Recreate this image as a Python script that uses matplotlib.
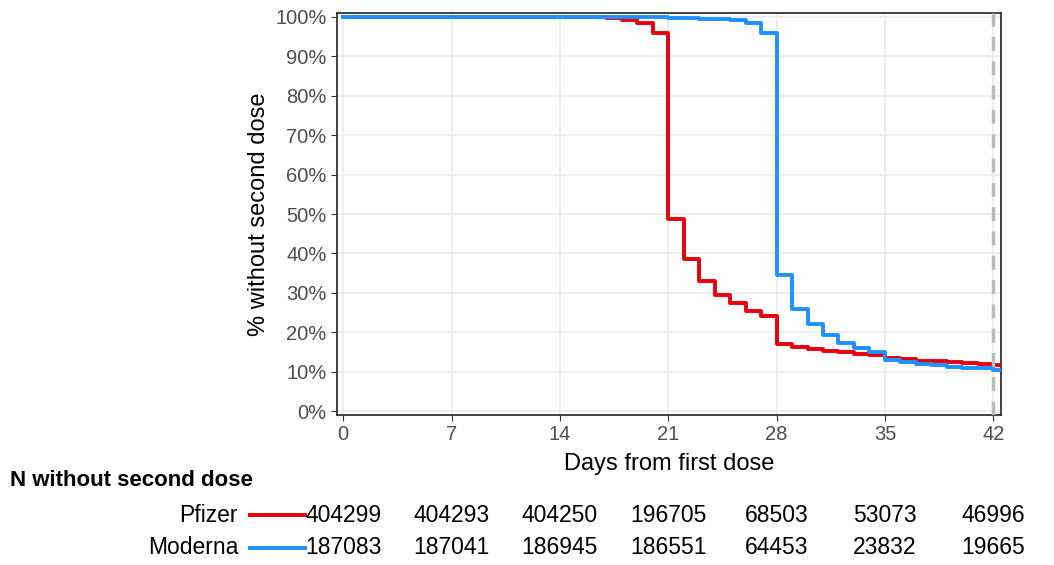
import matplotlib
matplotlib.use("Agg")
import matplotlib.pyplot as plt
import matplotlib.transforms as mtransforms

plt.rcParams['font.family'] = ['Liberation Sans', 'DejaVu Sans']

days = list(range(0, 43))
pfizer = [100]*17 + [99.7, 99.2, 98.5, 96.0, 48.7, 38.6, 33.0, 29.5, 27.3, 25.5, 24.0,
          16.9, 16.2, 15.7, 15.3, 14.9, 14.5, 14.1, 13.4, 13.1, 12.8, 12.6, 12.4, 12.2, 12.0, 11.6]
moderna = [100]*21 + [99.8, 99.7, 99.6, 99.4, 99.1, 98.5, 96.0,
           34.5, 26.0, 22.0, 19.3, 17.3, 16.0, 15.0, 12.9, 12.5, 12.0, 11.6, 11.3, 11.0, 10.8, 10.5]
xticks = [0, 7, 14, 21, 28, 35, 42]
n_pfizer = [404299, 404293, 404250, 196705, 68503, 53073, 46996]
n_moderna = [187083, 187041, 186945, 186551, 64453, 23832, 19665]
red = "#E8000B"
blue = "#1E90FF"

fig = plt.figure(figsize=(10.54, 5.65), dpi=100)
ax = fig.add_axes([337/1054, 1-415/565, (1001-337)/1054, (415-13)/565])
ax.step(days + [42.5], pfizer + [pfizer[-1]], where="post", color=red, lw=2.8, zorder=3)
ax.step(days + [42.5], moderna + [moderna[-1]], where="post", color=blue, lw=2.8, zorder=4)
ax.axvline(42, color="#BBBBBB", ls=(0, (4, 3)), lw=2.5, zorder=5)
ax.set_xlim(-0.4, 42.5)
ax.set_ylim(-1, 101)
ax.set_xticks(xticks)
ax.set_yticks(range(0, 101, 10))
ax.set_yticklabels([f"{v}%" for v in range(0, 101, 10)])
ax.grid(True, color="#EBEBEB", lw=1.2)
ax.set_axisbelow(True)
for s in ax.spines.values():
    s.set_color("#333333"); s.set_linewidth(1.3)
ax.tick_params(labelsize=14.5, colors="#333333", labelcolor="#4D4D4D", length=4)
ax.set_xlabel("Days from first dose", fontsize=17, labelpad=6)
ax.set_ylabel("% without second dose", fontsize=17, labelpad=4)

trans = mtransforms.blended_transform_factory(ax.transData, fig.transFigure)
fig.text(10/1054, 1-480/565, "N without second dose", fontsize=16, fontweight="bold", va="center")
for yy, name, vals, col in [(515, "Pfizer", n_pfizer, red), (548, "Moderna", n_moderna, blue)]:
    yf = 1-yy/565
    fig.text(238/1054, yf, name, fontsize=16.5, ha="right", va="center")
    fig.add_artist(plt.Line2D([250/1054, 305/1054], [yf, yf], color=col, lw=2.8, transform=fig.transFigure))
    for d, v in zip(xticks, vals):
        fig.text(d, yf, str(v), fontsize=16.5, ha="center", va="center", transform=trans, zorder=6)

fig.savefig("out.png", dpi=100)
